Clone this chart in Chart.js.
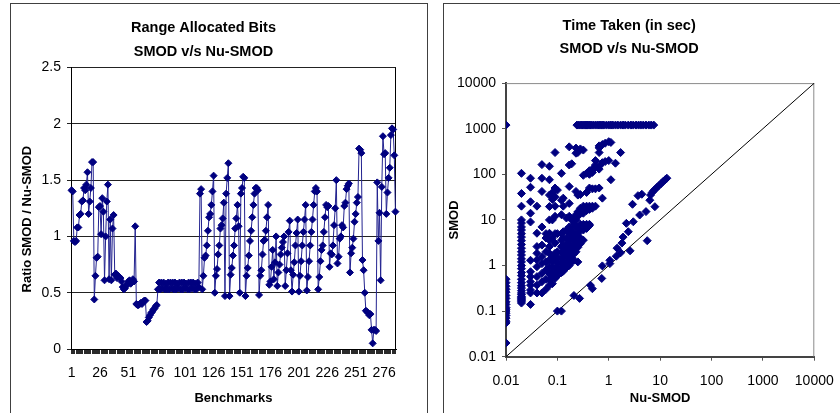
<!DOCTYPE html>
<html>
<head>
<meta charset="utf-8">
<script src="https://cdn.jsdelivr.net/npm/chart.js@4.4.1/dist/chart.umd.min.js"></script>
<style>
  html, body { margin: 0; padding: 0; background: #fff; overflow: hidden; }
  body { width: 840px; height: 413px; position: relative; }
  .frame { position: absolute; border: 1px solid #404040; box-sizing: border-box; }
  canvas { position: absolute; }
</style>
</head>
<body>
<div class="frame" style="left:10px; top:3px; width:418px; height:430px;"></div>
<canvas id="bitsChart" width="415" height="409" style="left:11px; top:4px;"></canvas>
<div class="frame" style="left:443px; top:3px; width:440px; height:430px;"></div>
<canvas id="timeChart" width="420" height="409" style="left:444px; top:4px;"></canvas>
<script>
// ratio SMOD / Nu-SMOD per benchmark
const ratioValues = [
  1.41, 1.40, 0.96, 0.95, 0.96, 1.08, 1.08, 1.19, 1.20, 1.31, 1.32, 1.43, 1.41, 1.46, 1.57, 1.20, 1.31, 1.43, 1.66, 1.66, 0.44, 0.65, 0.81, 0.82, 1.26,
  1.27, 1.02, 1.34, 1.22, 0.61, 1.00, 1.31, 1.46, 0.62, 1.15, 0.61, 1.07, 1.19, 0.66, 0.67, 0.63, 0.65, 0.64, 0.63, 0.60,
  0.55, 0.53, 0.54, 0.56, 0.58, 0.60, 0.61, 0.58, 0.59, 0.62, 0.60, 1.09,
  0.40, 0.39, 0.39, 0.40, 0.41, 0.40, 0.42, 0.43, 0.43, 0.24, 0.25, 0.28, 0.30, 0.32, 0.33, 0.35, 0.36, 0.38, 0.39,
  0.53, 0.59, 0.53, 0.59, 0.54, 0.59, 0.53, 0.58, 0.53, 0.59, 0.53, 0.59, 0.54, 0.59, 0.53, 0.59, 0.53, 0.58, 0.54, 0.59,
  0.53, 0.59, 0.53, 0.59, 0.54, 0.58, 0.53, 0.59, 0.53, 0.59, 0.54, 0.59, 0.53, 0.58, 0.53, 0.59, 0.55,
  1.38, 1.42, 0.53, 0.65, 0.81, 0.83, 0.92, 1.05, 1.17, 1.20, 1.28, 1.40, 1.54, 0.50,
  0.65, 0.71, 0.84, 0.92, 1.07, 1.10, 1.16, 1.30, 0.47, 1.38, 1.52, 1.65, 0.47,
  0.66, 0.72, 0.83, 0.92, 1.07, 1.16, 1.28, 1.09, 0.50, 1.38, 1.43, 1.53, 1.52, 0.47,
  0.65, 0.72, 0.83, 0.96, 1.05, 1.17, 1.28, 1.38, 1.43, 1.43, 1.41, 0.48,
  0.65, 0.70, 0.84, 0.96, 0.97, 1.05, 1.17, 1.28, 0.57,
  0.60, 0.73, 0.88, 0.62, 0.77, 1.00, 0.56,
  0.68, 0.75, 0.84, 0.90, 0.95, 1.00, 0.56,
  0.70, 0.85, 1.04, 1.14, 0.70, 0.51,
  0.66, 0.77, 0.92, 1.03, 1.15, 0.51,
  0.65, 0.78, 0.92, 1.04, 1.15, 1.28, 0.52,
  0.64, 0.78, 0.92, 1.04, 1.15, 1.28, 1.40, 1.43, 1.40, 0.53,
  0.64, 0.78, 0.88, 0.92, 1.04, 1.17, 1.28, 1.26, 1.27, 0.73,
  0.85, 0.84, 0.92, 1.10, 1.25, 1.50, 0.76,
  0.82, 0.98, 1.00, 1.10, 1.08, 1.27, 1.30, 1.42, 1.45, 1.47, 0.68,
  0.85, 0.90, 0.98, 1.13, 1.20, 1.30, 1.35, 1.78, 1.77, 1.74,
  0.79, 0.70, 0.50, 0.34, 0.33, 0.32, 0.30, 0.31, 0.17, 0.05, 0.17, 0.17, 0.16,
  1.48, 0.96, 1.21, 0.61, 1.44, 1.89, 1.73, 1.74, 1.20, 1.39, 1.52, 1.61, 1.90, 1.96, 1.95, 1.72, 1.22
];
const benchLabels = ratioValues.map((v, i) => String(i + 1));
const ratioTicks = [0, 0.5, 1, 1.5, 2, 2.5];

// time taken in seconds: [Nu-SMOD, SMOD]
const timePoints = [
  [0.01, 0.02], [0.01, 0.055], [0.01, 0.06], [0.01, 0.07], [0.01, 0.08], [0.01, 0.09], [0.01, 0.1], [0.01, 0.11],
  [0.01, 0.12], [0.01, 0.14], [0.01, 0.16], [0.01, 0.19], [0.01, 0.22], [0.01, 0.26], [0.01, 0.3], [0.01, 0.35],
  [0.01, 0.42], [0.01, 0.5], [0.01, 1200],
  [0.02, 0.15], [0.02, 0.16], [0.02, 0.17], [0.02, 0.18], [0.02, 0.19], [0.02, 0.2], [0.02, 0.21], [0.02, 0.23],
  [0.02, 0.25], [0.02, 0.28], [0.02, 0.32], [0.02, 0.36], [0.02, 0.42], [0.02, 0.5], [0.02, 0.6], [0.02, 0.7],
  [0.02, 0.85], [0.02, 1.0], [0.02, 1.2], [0.02, 1.4], [0.02, 1.7], [0.02, 2.0], [0.02, 2.4], [0.02, 2.9],
  [0.02, 3.5], [0.02, 4.2], [0.02, 5], [0.02, 6], [0.02, 7], [0.02, 8.5], [0.02, 10], [0.02, 20], [0.02, 38], [0.02, 105],
  [0.03, 0.14], [0.03, 0.25], [0.03, 0.29], [0.03, 0.37], [0.03, 0.44], [0.03, 0.57], [0.03, 0.73], [0.03, 1.3],
  [0.03, 9], [0.03, 14], [0.03, 25], [0.03, 52], [0.03, 82],
  [0.04, 0.25], [0.04, 0.37], [0.04, 0.57], [0.04, 0.94], [0.04, 1.33], [0.04, 1.85], [0.04, 2.6], [0.04, 5.1], [0.04, 20],
  [0.05, 0.25], [0.05, 0.44], [0.05, 0.67], [0.05, 1.1], [0.05, 1.56], [0.05, 2.8], [0.05, 7], [0.05, 42], [0.05, 82], [0.05, 163],
  [0.06, 0.3], [0.06, 0.5], [0.06, 0.8], [0.06, 1.2], [0.06, 2], [0.06, 4], [0.06, 5],
  [0.07, 0.37], [0.07, 0.48], [0.07, 0.67], [0.07, 0.94], [0.07, 1.33], [0.07, 1.85], [0.07, 2.6], [0.07, 3.6],
  [0.07, 5.1], [0.07, 10], [0.07, 19.6], [0.07, 35], [0.07, 76], [0.07, 150],
  [0.08, 0.4], [0.08, 0.55], [0.08, 0.7], [0.08, 0.9], [0.08, 1.2], [0.08, 1.6], [0.08, 4], [0.08, 10], [0.08, 28], [0.08, 40],
  [0.09, 0.52], [0.09, 0.67], [0.09, 0.9], [0.09, 1.3], [0.09, 1.85], [0.09, 3.1], [0.09, 5], [0.09, 12],
  [0.09, 20], [0.09, 32], [0.09, 50], [0.09, 300],
  [0.1, 0.1], [0.1, 0.6], [0.1, 0.75], [0.1, 0.95], [0.1, 1.2], [0.1, 1.5], [0.1, 2], [0.1, 5], [0.1, 45],
  [0.12, 0.1], [0.12, 0.7], [0.12, 0.85], [0.12, 1.1], [0.12, 1.4], [0.12, 1.9], [0.12, 2.6], [0.12, 3.6],
  [0.12, 5], [0.12, 13], [0.12, 27], [0.12, 105],
  [0.13, 0.75], [0.13, 0.95], [0.13, 1.2], [0.13, 1.5], [0.13, 2.0], [0.13, 2.7], [0.13, 4.0], [0.13, 5.5], [0.13, 20], [0.13, 30],
  [0.15, 0.9], [0.15, 1.2], [0.15, 1.6], [0.15, 2.2], [0.15, 3], [0.15, 4], [0.15, 6], [0.15, 11],
  [0.17, 1.0], [0.17, 1.3], [0.17, 1.8], [0.17, 2.5], [0.17, 3.5], [0.17, 5], [0.17, 7], [0.17, 12],
  [0.17, 23], [0.17, 54], [0.17, 160], [0.17, 400],
  [0.19, 1.2], [0.19, 1.5], [0.19, 2], [0.19, 2.7], [0.19, 4], [0.19, 6], [0.19, 10], [0.19, 170],
  [0.21, 1.3], [0.21, 1.8], [0.21, 2.5], [0.21, 3.5], [0.21, 5], [0.21, 8], [0.21, 11], [0.21, 0.22],
  [0.23, 2], [0.23, 2.8], [0.23, 4], [0.23, 5], [0.23, 7], [0.23, 10], [0.23, 13], [0.23, 42], [0.23, 290], [0.23, 375],
  [0.25, 1.2], [0.25, 2.5], [0.25, 3.5], [0.25, 5], [0.25, 7], [0.25, 12], [0.25, 15], [0.25, 35], [0.25, 300], [0.27, 0.19],
  [0.28, 3], [0.28, 4], [0.28, 6], [0.28, 8], [0.28, 14], [0.28, 18], [0.28, 36], [0.28, 360],
  [0.32, 3.6], [0.32, 6], [0.32, 8], [0.32, 14], [0.32, 20], [0.32, 95], [0.32, 340],
  [0.37, 6.5], [0.37, 7.5], [0.37, 8], [0.37, 16], [0.37, 20], [0.37, 40], [0.37, 105], [0.44, 0.37],
  [0.42, 7.5], [0.42, 8], [0.42, 17], [0.42, 20], [0.42, 50], [0.42, 100], [0.42, 120],
  [0.48, 0.31], [0.48, 18], [0.48, 20], [0.48, 48], [0.48, 110], [0.48, 130],
  [0.55, 20], [0.55, 48], [0.55, 140], [0.55, 160], [0.55, 200],
  [0.65, 50], [0.65, 130], [0.65, 150], [0.65, 300], [0.65, 380], [0.65, 420], [0.73, 0.52],
  [0.75, 0.98], [0.75, 30], [0.75, 180], [0.75, 450],
  [0.85, 190], [0.85, 480], [1.0, 200], [1.0, 520], [1.05, 1.1], [1.05, 1.3], [1.1, 76], [1.1, 500],
  [1.35, 175], [1.4, 1.6], [1.45, 2.4], [1.7, 300], [1.7, 1.9], [1.8, 3.1], [1.9, 4.2], [2.2, 8.4],
  [2.4, 5.5], [2.6, 2.1], [2.9, 22], [3.0, 9.1], [3.7, 34], [4.0, 12.8], [4.4, 36.5], [5.3, 15.2],
  [5.6, 3.5], [6.3, 27], [7.9, 19.5], [6.5, 35], [7, 40], [7.5, 44], [8, 47], [8.7, 52], [9.5, 57],
  [10.5, 63], [11.5, 70], [12.5, 76], [13.5, 82],
  [0.24, 1200], [0.26, 1200], [0.28, 1200], [0.3, 1200], [0.32, 1200], [0.34, 1200], [0.36, 1200], [0.38, 1200],
  [0.4, 1200], [0.43, 1200], [0.46, 1200], [0.5, 1200], [0.55, 1200], [0.6, 1200], [0.65, 1200], [0.7, 1200],
  [0.75, 1200], [0.8, 1200], [0.9, 1200], [1.0, 1200], [1.1, 1200], [1.2, 1200], [1.35, 1200], [1.5, 1200],
  [1.7, 1200], [1.9, 1200], [2.1, 1200], [2.4, 1200], [2.7, 1200], [3.0, 1200], [3.4, 1200], [3.8, 1200],
  [4.2, 1200], [4.7, 1200], [5.3, 1200], [6, 1200], [6.7, 1200], [7.5, 1200]
];
const decadeTicks = [0.01, 0.1, 1, 10, 100, 1000, 10000];

Chart.defaults.font.family = 'Arial, "Liberation Sans", sans-serif';
Chart.defaults.color = '#000';

// edges of the plot area that Excel draws as a frame
const frameLines = {
  id: 'frameLines',
  beforeDatasetsDraw(chart, args, opts) {
    const { ctx, chartArea: a } = chart;
    ctx.save();
    ctx.strokeStyle = opts.color;
    ctx.lineWidth = 1;
    ctx.beginPath();
    if (opts.top) { ctx.moveTo(a.left, a.top + 0.5); ctx.lineTo(a.right, a.top + 0.5); }
    if (opts.right) { ctx.moveTo(a.right - 0.5, a.top); ctx.lineTo(a.right - 0.5, a.bottom); }
    ctx.stroke();
    ctx.restore();
  }
};

new Chart(document.getElementById('bitsChart'), {
  type: 'line',
  data: {
    labels: benchLabels,
    datasets: [{
      data: ratioValues,
      borderColor: '#22228f',
      borderWidth: 1,
      pointStyle: 'rectRot',
      pointRadius: 3.5,
      pointBackgroundColor: '#000080',
      pointBorderColor: '#000080',
      pointBorderWidth: 1
    }]
  },
  options: {
    responsive: false,
    animation: false,
    devicePixelRatio: 1,
    layout: { padding: { left: 0, right: 30, top: 0, bottom: 0 } },
    plugins: {
      legend: { display: false },
      tooltip: { enabled: false },
      title: {
        display: true,
        text: ['Range Allocated Bits', 'SMOD v/s Nu-SMOD'],
        font: { size: 14.5, weight: 'bold', lineHeight: 1.65 },
        color: '#000',
        padding: { top: 12, bottom: 3.7 }
      },
      frameLines: { color: '#000', right: true }
    },
    scales: {
      x: {
        offset: true,
        grid: { drawOnChartArea: false, tickLength: 5, color: '#2a2a2a' },
        border: { color: '#000' },
        ticks: {
          autoSkip: false, maxRotation: 0, minRotation: 0, padding: 11,
          font: { size: 14 },
          callback(value, index) { return index % 25 === 0 ? this.getLabelForValue(value) : ''; }
        },
        title: { display: true, text: 'Benchmarks', font: { size: 13, weight: 'bold' }, padding: { top: 0, bottom: 7 } },
        afterFit(s) { s.height = 64; }
      },
      y: {
        min: 0, max: 2.5,
        afterBuildTicks(s) { s.ticks = ratioTicks.map(v => ({ value: v })); },
        grid: { color: '#222', tickLength: 4 },
        border: { color: '#000' },
        ticks: { padding: 6, font: { size: 14 }, callback: v => String(v) },
        title: { display: true, text: 'Ratio SMOD / Nu-SMOD      ', font: { size: 13, weight: 'bold' }, padding: { top: 9, bottom: 0 } },
        afterFit(s) { s.width = 60; }
      }
    }
  },
  plugins: [frameLines]
});

new Chart(document.getElementById('timeChart'), {
  type: 'scatter',
  data: {
    datasets: [{
      type: 'line',
      data: [{ x: 0.01, y: 0.01 }, { x: 10000, y: 10000 }],
      borderColor: '#000',
      borderWidth: 1,
      pointRadius: 0,
      order: 2
    }, {
      data: timePoints.map(p => ({ x: p[0], y: p[1] })),
      pointStyle: 'rectRot',
      pointRadius: 4,
      backgroundColor: '#000080',
      borderColor: '#000080',
      borderWidth: 1,
      order: 1
    }]
  },
  options: {
    responsive: false,
    animation: false,
    devicePixelRatio: 1,
    layout: { padding: { left: 0, right: 49.7, top: 0, bottom: 0 } },
    plugins: {
      legend: { display: false },
      tooltip: { enabled: false },
      title: {
        display: true,
        text: ['Time Taken (in sec)', 'SMOD v/s Nu-SMOD'],
        font: { size: 14.5, weight: 'bold', lineHeight: 1.6 },
        color: '#000',
        padding: { top: 10.4, bottom: 22.3 }
      },
      frameLines: { color: '#8a8a8a', top: true, right: true }
    },
    scales: {
      x: {
        type: 'logarithmic',
        min: 0.01, max: 10000,
        afterBuildTicks(s) { s.ticks = decadeTicks.map(v => ({ value: v })); },
        grid: { drawOnChartArea: false, tickLength: 4, color: '#555' },
        border: { color: '#444', width: 2 },
        ticks: { padding: 12, font: { size: 14 }, callback: v => String(v) },
        title: { display: true, text: 'Nu-SMOD', font: { size: 13, weight: 'bold' }, padding: { top: 0, bottom: 7 } },
        afterFit(s) { s.height = 56.3; }
      },
      y: {
        type: 'logarithmic',
        min: 0.01, max: 10000,
        afterBuildTicks(s) { s.ticks = decadeTicks.map(v => ({ value: v })); },
        grid: { drawOnChartArea: false, tickLength: 4, color: '#555' },
        border: { color: '#444', width: 2 },
        ticks: { padding: 6, font: { size: 14 }, callback: v => String(v) },
        title: { display: true, text: 'SMOD', font: { size: 13, weight: 'bold' }, padding: { top: 3, bottom: 0 } },
        afterFit(s) { s.width = 62; }
      }
    }
  },
  plugins: [frameLines]
});
</script>
</body>
</html>
